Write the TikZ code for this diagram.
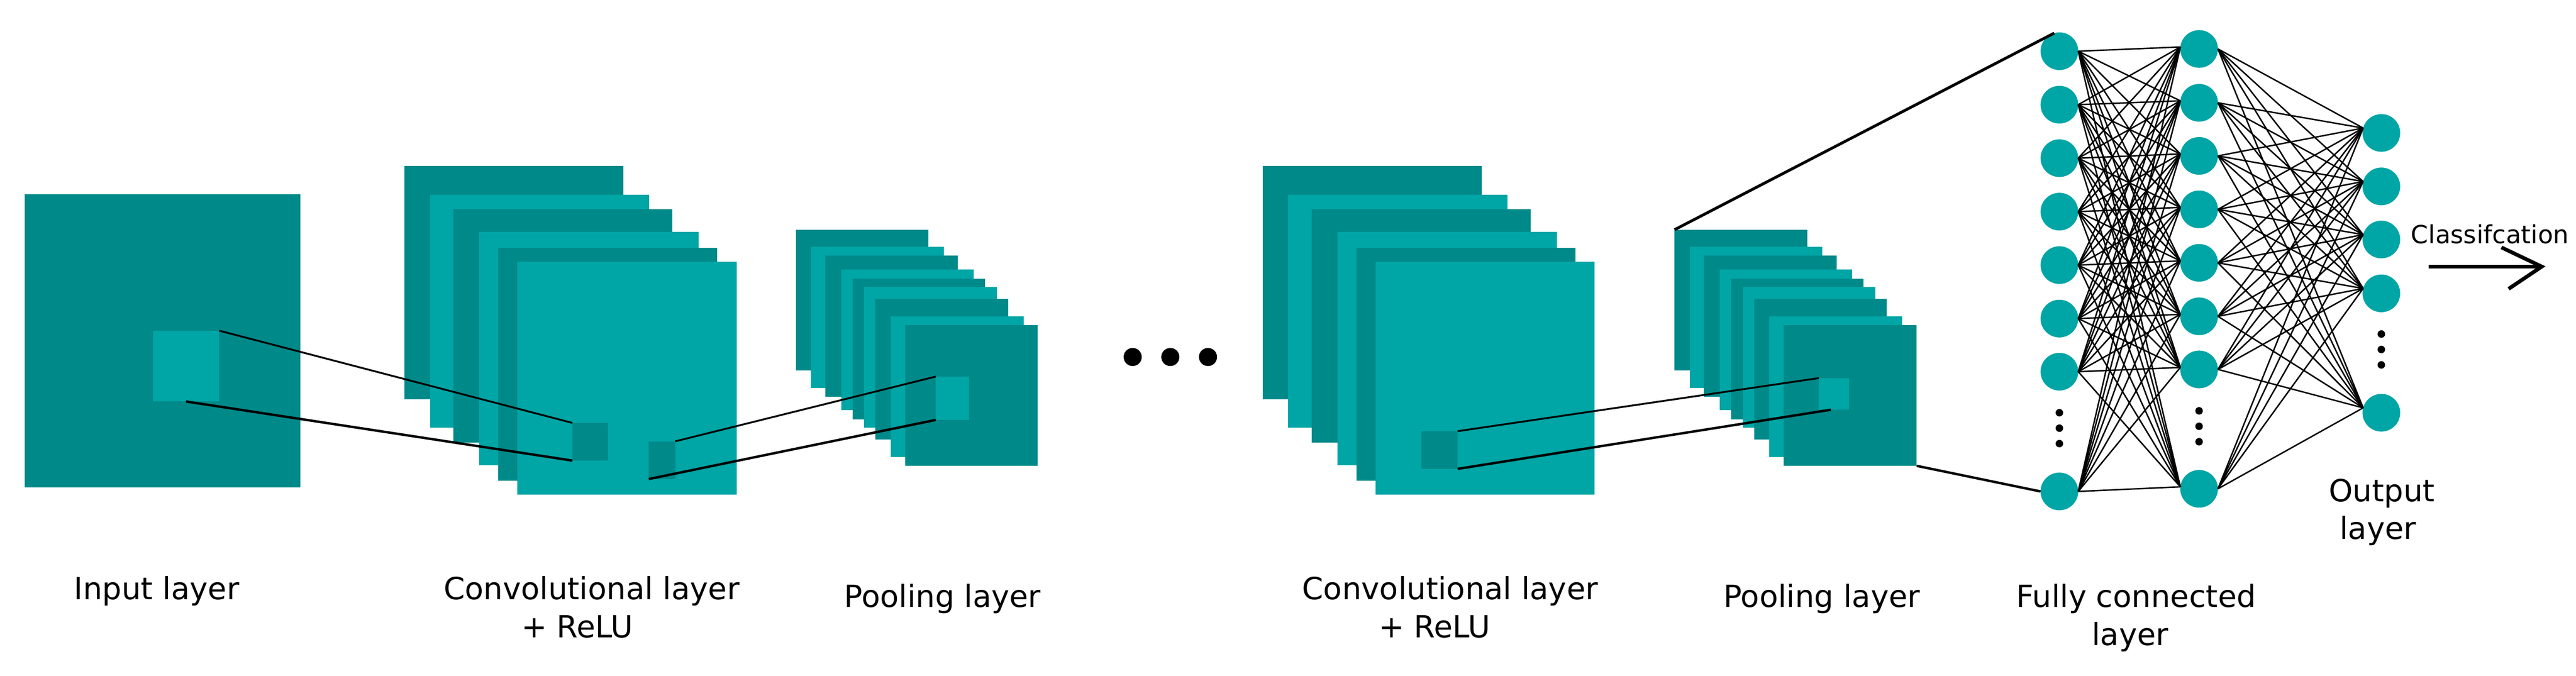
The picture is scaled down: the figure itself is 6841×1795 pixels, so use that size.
\documentclass[tikz,border=0pt]{standalone}
\usepackage{fontspec}
\setmainfont{DejaVu Sans}
\usetikzlibrary{calc}
\definecolor{tealdark}{RGB}{0,137,137}
\definecolor{teallight}{RGB}{0,165,165}
\newcommand{\convstack}[2]{%
  \foreach \dx/\dy/\c in {0/0/tealdark,68/76/teallight,130/115/tealdark,199/175/teallight,249/217/tealdark,300/254/teallight}
    \fill[\c] ({#1+\dx},{#2+\dy}) rectangle +(582,619);
}
\newcommand{\poolstack}[2]{%
  \foreach \dx/\dy/\c in {0/0/tealdark,40/46/teallight,78/69/tealdark,120/105/teallight,150/130/tealdark,181/152/teallight,211/183/tealdark,252/230/teallight,290/253/tealdark}
    \fill[\c] ({#1+\dx},{#2+\dy}) rectangle +(352,374);
}
\begin{document}
\begin{tikzpicture}[x=0.01cm,y=-0.01cm,
  patch/.style={rectangle,inner sep=0,outer sep=0,draw=none,anchor=north west},
  neuron/.style={circle,fill=teallight,minimum size=1cm,inner sep=0,outer sep=0},
  fcedge/.style={line width=0.038cm,black},
  thinconn/.style={line width=0.048cm,black},
  thickconn/.style={line width=0.064cm,black},
  fcconn/.style={line width=0.075cm,black},
  lbl/.style={font=\fontsize{23.05pt}{27pt}\selectfont,inner sep=0,outer sep=0,anchor=base},
  smalllbl/.style={font=\fontsize{18.8pt}{22pt}\selectfont,inner sep=0,outer sep=0,anchor=base west}]
\useasboundingbox (0,0) rectangle (6841,1795);
\fill[white] (0,0) rectangle (6841,1795);

% input layer
\fill[tealdark] (66,516) rectangle (798,1294);
\node[patch,fill=teallight,minimum width=1.76cm,minimum height=1.88cm] (inp) at (406,878) {};

% first conv stack
\convstack{1074}{441}
\node[patch,fill=tealdark,minimum width=0.94cm,minimum height=1.00cm] (c1a) at (1520,1123) {};
\node[patch,fill=tealdark,minimum width=0.70cm,minimum height=1.00cm] (c1b) at (1723,1172) {};

% first pooling stack
\poolstack{2114}{610}
\node[patch,fill=teallight,minimum width=0.89cm,minimum height=1.15cm] (p1) at (2485,1000) {};

% ellipsis
\foreach \x/\n in {3008/1,3108/2,3208/3}
  \fill[black] (\x,948) circle (0.24cm);

% second conv stack
\convstack{3353}{441}
\node[patch,fill=tealdark,minimum width=0.96cm,minimum height=1.00cm] (c2) at (3775,1145) {};

% second pooling stack
\poolstack{4447}{610}
\node[patch,fill=teallight,minimum width=0.80cm,minimum height=0.84cm] (p2) at (4830,1004) {};
\coordinate (p2tl) at (4447,610);
\coordinate (p2br) at (5090,1237);

% connectors between feature maps
\draw[thinconn] (inp.north east) -- (c1a.north west);
\draw[thickconn] (inp.south) -- (c1a.south west);
\draw[thinconn] (c1b.north east) -- (p1.north west);
\draw[thickconn] (c1b.south west) -- (p1.south west);
\draw[thinconn] (c2.north east) -- (p2.north west);
\draw[thickconn] (c2.south east) -- ($(p2.south west)!0.4!(p2.south east)$);

% fully connected layers
\foreach \i/\y in {1/136,2/278,3/420,4/562,5/704,6/846,7/987,8/1305}
  \node[neuron] (a\i) at (5469,\y) {};
\foreach \i/\y in {1/130,2/273,3/414,4/556,5/698,6/840,7/981,8/1298}
  \node[neuron] (b\i) at (5840,\y) {};
\foreach \i/\y in {1/353,2/495,3/636,4/779,5/1096}
  \node[neuron] (o\i) at (6324,\y) {};

\foreach \i in {1,...,8}
  \foreach \j in {1,...,8}
    \draw[fcedge] (a\i.east) -- (b\j.174);
\foreach \i in {1,...,8}
  \foreach \j in {1,...,5}
    \draw[fcedge] (b\i.east) -- (o\j.165);

% vertical dots
\foreach \y in {1096,1137,1178} \fill[black] (5469,\y) circle (0.1cm);
\foreach \y in {1091,1132,1173} \fill[black] (5840,\y) circle (0.1cm);
\foreach \y in {887,928,969} \fill[black] (6324,\y) circle (0.1cm);

% pooling to fully connected
\draw[fcconn] (p2tl) -- (a1.106);
\draw[thickconn] (p2br) -- (a8.west);

% classification arrow
\coordinate (arrS) at (6450,708);
\coordinate (arrT) at (6750,708);
\coordinate (arrU) at (6643,657);
\coordinate (arrD) at (6662,767);
\draw[line width=0.1cm] (arrS) -- (arrT);
\draw[line width=0.1cm,line join=miter] (arrU) -- (arrT) -- (arrD);
\node[smalllbl] (cls) at (6403,647) {Classifcation};

% labels
\node[lbl] (l1) at (416,1592) {Input layer};
\node[lbl] (l2) at (1571,1592) {Convolutional layer};
\node[lbl] (l2b) at (1533,1693) {+ ReLU};
\node[lbl] (l3) at (2503,1612) {Pooling layer};
\node[lbl] (l4) at (3851,1592) {Convolutional layer};
\node[lbl] (l4b) at (3810,1693) {+ ReLU};
\node[lbl] (l5) at (4838,1612) {Pooling layer};
\node[lbl] (l6) at (5673,1612) {Fully connected};
\node[lbl] (l6b) at (5657,1714) {layer};
\node[lbl] (l7) at (6325,1332) {Output};
\node[lbl] (l7b) at (6315,1432) {layer};
\end{tikzpicture}
\end{document}
